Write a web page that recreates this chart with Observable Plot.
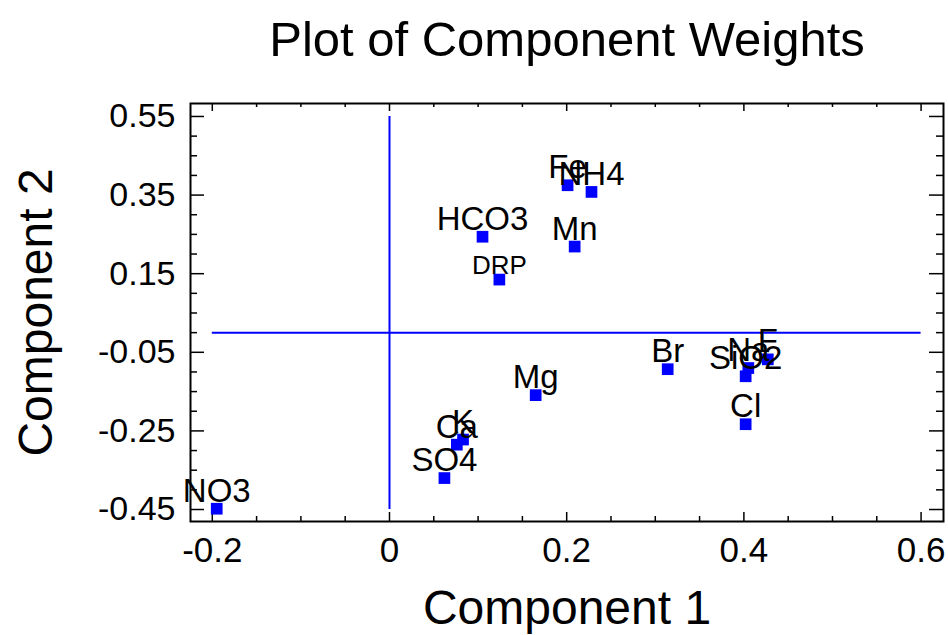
<!DOCTYPE html>
<html><head><meta charset="utf-8">
<script src="https://cdn.jsdelivr.net/npm/d3@7"></script>
<script src="https://cdn.jsdelivr.net/npm/@observablehq/plot@0.6"></script>
<style>
body{margin:0;background:#fff;}
#title{box-sizing:border-box;width:948px;height:80px;padding-left:186px;text-align:center;font:49px "Liberation Sans",Arial,sans-serif;line-height:78px;color:#000;white-space:nowrap;}
</style></head><body>
<div id="title">Plot of Component Weights</div>
<div id="chart"></div>
<script>
const names = ["NO3","SO4","Ca","K","Mg","DRP","HCO3","Mn","Fe","NH4","Br","SiO2","Na","F","Cl"];
const comp1 = [-0.195, 0.062, 0.076, 0.083, 0.165, 0.124, 0.105, 0.209, 0.201, 0.228, 0.314, 0.402, 0.405, 0.427, 0.402];
const comp2 = [-0.448, -0.370, -0.285, -0.272, -0.159, 0.135, 0.244, 0.219, 0.375, 0.358, -0.093, -0.111, -0.090, -0.068, -0.233];
const xTicks = [-0.2, 0, 0.2, 0.4, 0.6];
const xTickLabels = ["-0.2", "0", "0.2", "0.4", "0.6"];
const xMinorTicks = [-0.15, -0.1, -0.05, 0.05, 0.1, 0.15, 0.25, 0.3, 0.35, 0.45, 0.5, 0.55];
const yTicks = [0.55, 0.35, 0.15, -0.05, -0.25, -0.45];
const yTickLabels = ["0.55", "0.35", "0.15", "-0.05", "-0.25", "-0.45"];
const yMinorTicks = [0.5, 0.45, 0.4, 0.3, 0.25, 0.2, 0.1, 0.05, 0, -0.1, -0.15, -0.2, -0.3, -0.35, -0.4];
const xLabel = "Component 1";
const yLabel = "Component 2";

const data = names.map((name, i) => ({name, c1: comp1[i], c2: comp2[i]}));

const W = 948, H = 555, mT = 23, mB = 114, mL = 190, mR = 5;
const frameH = H - mT - mB, frameW = W - mL - mR;
const font = '"Liberation Sans", Arial, sans-serif';
const blue = "#0000ff";

const chart = Plot.plot({
  width: W, height: H,
  marginTop: mT, marginBottom: mB, marginLeft: mL, marginRight: mR,
  style: {fontFamily: font, color: "#000", background: "#fff"},
  x: {domain: [-0.2246, 0.6253], axis: null},
  y: {domain: [-0.4805, 0.583], axis: null},
  marks: [
    // reference lines through origin
    Plot.ruleY([0], {x1: xTicks[0], x2: xTicks[xTicks.length - 1], stroke: blue, strokeWidth: 2}),
    Plot.ruleX([0], {y1: yTicks[yTicks.length - 1], y2: yTicks[0], stroke: blue, strokeWidth: 2}),
    // ticks bottom/top (inward)
    Plot.tickX(xTicks, {x: d => d, insetTop: frameH - 9, stroke: "#000", strokeWidth: 1.5}),
    Plot.tickX(xMinorTicks, {x: d => d, insetTop: frameH - 5, stroke: "#000", strokeWidth: 1.5}),
    Plot.tickX(xTicks, {x: d => d, insetBottom: frameH - 8, stroke: "#000", strokeWidth: 1.5}),
    Plot.tickX(xMinorTicks, {x: d => d, insetBottom: frameH - 4, stroke: "#000", strokeWidth: 1.5}),
    // ticks left/right (inward)
    Plot.tickY(yTicks, {y: d => d, insetRight: frameW - 14, stroke: "#000", strokeWidth: 1.5}),
    Plot.tickY(yMinorTicks, {y: d => d, insetRight: frameW - 7, stroke: "#000", strokeWidth: 1.5}),
    Plot.tickY(yTicks, {y: d => d, insetLeft: frameW - 14, stroke: "#000", strokeWidth: 1.5}),
    Plot.tickY(yMinorTicks, {y: d => d, insetLeft: frameW - 7, stroke: "#000", strokeWidth: 1.5}),
    Plot.frame({stroke: "#000", strokeWidth: 2}),
    // tick labels
    Plot.text(xTicks, {x: d => d, text: (d, i) => xTickLabels[i], frameAnchor: "bottom", lineAnchor: "top", dy: 16, fontSize: 35, fill: "#000"}),
    Plot.text(yTicks, {y: d => d, text: (d, i) => yTickLabels[i], frameAnchor: "left", textAnchor: "end", dx: -15, fontSize: 34, fill: "#000"}),
    // axis titles
    Plot.text([xLabel], {text: d => d, frameAnchor: "bottom", textAnchor: "middle", lineAnchor: "bottom", dy: 102, fontSize: 48, fill: "#000"}),
    Plot.text([yLabel], {text: d => d, frameAnchor: "left", textAnchor: "middle", rotate: -90, lineAnchor: "bottom", dx: -139, fontSize: 48, fill: "#000"}),
    // points
    Plot.dot(data, {x: "c1", y: "c2", symbol: "square", r: 6.6, fill: blue}),
    // point labels
    Plot.text(data, {filter: d => d.name !== "DRP", x: "c1", y: "c2", text: "name", lineAnchor: "bottom", dy: -7, fontSize: 33, fill: "#000"}),
    Plot.text(data, {filter: d => d.name === "DRP", x: "c1", y: "c2", text: "name", lineAnchor: "bottom", dy: -6, fontSize: 26, fill: "#000"})
  ]
});
document.getElementById("chart").appendChild(chart);
</script>
</body></html>
